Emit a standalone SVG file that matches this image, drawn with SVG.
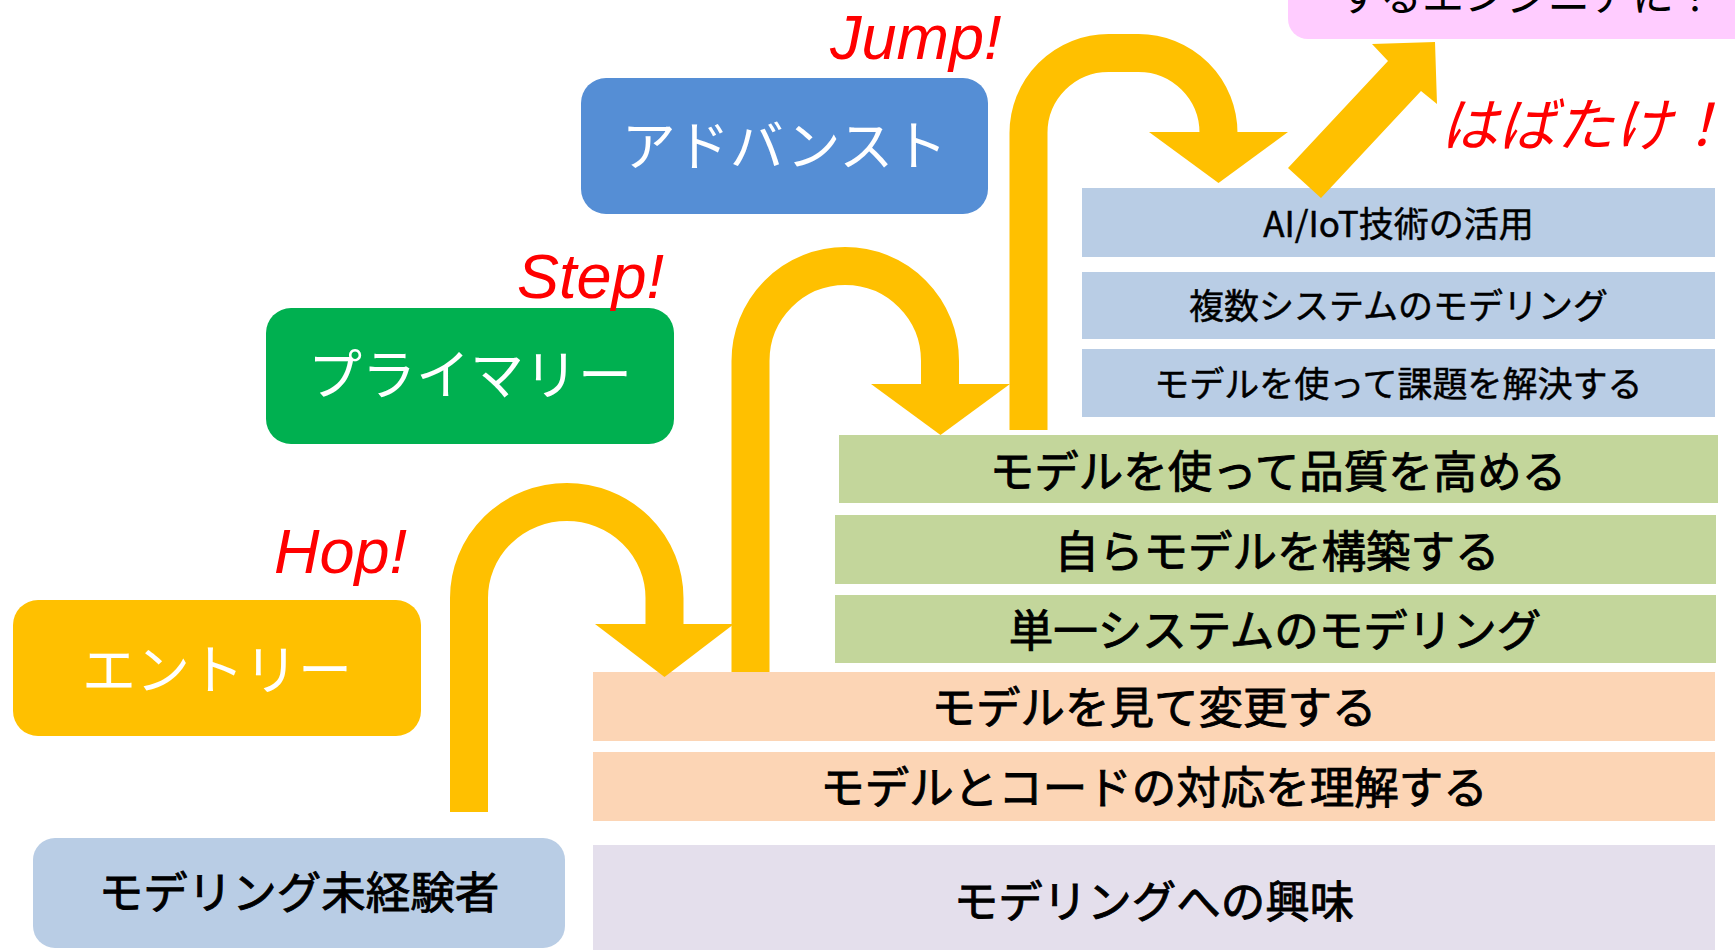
<svg xmlns="http://www.w3.org/2000/svg" width="1735" height="950" viewBox="0 0 1735 950">
<style>
.jp{font-family:"Noto Sans CJK JP","Noto Sans CJK SC",sans-serif;text-anchor:middle}
.w{fill:#FFFFFF;font-size:54px}
.b{fill:#000000;font-size:44.5px;stroke:#000000;stroke-width:0.9px}
.s{fill:#000000;font-size:35px;stroke:#000000;stroke-width:0.5px}
.red{fill:#FF0000;font-family:"Liberation Sans",Arial,sans-serif;font-style:italic;font-size:63px}
.arc{fill:none;stroke:#FFC000;stroke-width:38;stroke-linecap:butt}
.head{fill:#FFC000}
</style>
<rect width="1735" height="950" fill="#FFFFFF"/>

<g id="goal">
<rect x="1288" y="-60" width="500" height="99" rx="20" fill="#FFCCFF"/>
<text class="jp" x="1338" y="10.5" style="font-size:42px;text-anchor:start" fill="#000000">するエンジニアに！</text>
</g>

<g id="advanced">
<rect x="581" y="78" width="407" height="136" rx="25" fill="#558ED5"/>
<text class="jp w" x="784.5" y="165.5">アドバンスト</text>
</g>
<g id="primary">
<rect x="266" y="308" width="408" height="136" rx="25" fill="#00B050"/>
<text class="jp w" x="470" y="395">プライマリー</text>
</g>
<g id="entry">
<rect x="13" y="600" width="408" height="136" rx="25" fill="#FFC000"/>
<text class="jp w" x="217" y="689.5">エントリー</text>
</g>
<g id="novice">
<rect x="33" y="838" width="532" height="110" rx="22" fill="#B9CDE5"/>
<text class="jp b" x="299" y="909">モデリング未経験者</text>
</g>

<g id="interest">
<rect x="593" y="845" width="1122" height="115" fill="#E4DFEC"/>
<text class="jp b" x="1154" y="918">モデリングへの興味</text>
</g>
<g id="understand">
<rect x="593" y="752" width="1122" height="69" fill="#FCD5B5"/>
<text class="jp b" x="1154" y="804">モデルとコードの対応を理解する</text>
</g>
<g id="modify">
<rect x="593" y="672" width="1122" height="69" fill="#FCD5B5"/>
<text class="jp b" x="1154" y="724">モデルを見て変更する</text>
</g>
<g id="single">
<rect x="835" y="595" width="881" height="68" fill="#C3D69B"/>
<text class="jp b" x="1275" y="647">単一システムのモデリング</text>
</g>
<g id="build">
<rect x="835" y="515" width="881" height="69" fill="#C3D69B"/>
<text class="jp b" x="1277" y="567.5">自らモデルを構築する</text>
</g>
<g id="quality">
<rect x="839" y="435" width="879" height="68" fill="#C3D69B"/>
<text class="jp b" x="1278" y="488">モデルを使って品質を高める</text>
</g>
<g id="solve">
<rect x="1082" y="349" width="633" height="68" fill="#B9CDE5"/>
<text class="jp s" x="1398.5" y="397">モデルを使って課題を解決する</text>
</g>
<g id="multi">
<rect x="1082" y="272" width="633" height="67" fill="#B9CDE5"/>
<text class="jp s" x="1398.5" y="319">複数システムのモデリング</text>
</g>
<g id="aiiot">
<rect x="1082" y="188" width="633" height="69" fill="#B9CDE5"/>
<text class="jp s" x="1398.5" y="236.5">AI/IoT技術の活用</text>
</g>

<g id="connectors">
<path class="arc" d="M469,812 V598 A97.75,96 0 0 1 664.5,598 V626"/>
<polygon class="head" points="595,624 734,624 664.5,677"/>
<path class="arc" d="M750.5,672 V361 A94.75,95 0 0 1 940,361 V386"/>
<polygon class="head" points="871,384 1010,384 940.5,435"/>
<path class="arc" d="M1028.5,430 V133 A80,80 0 0 1 1108.5,53 H1138.5 A80,80 0 0 1 1218.5,133 V134"/>
<polygon class="head" points="1149,132 1288,132 1218.5,183"/>
<polygon class="head" points="1288,168 1388,61 1372,44 1435,42 1437,104 1421,91 1321,198"/>
</g>

<g id="labels">
<text class="red" x="274" y="573">Hop!</text>
<text class="red" x="517" y="298">Step!</text>
<text class="red" x="830" y="59">Jump!</text>
<text class="jp" x="1440" y="146" style="font-size:58px;font-style:italic;text-anchor:start" fill="#FF0000">はばたけ！</text>
</g>
</svg>
